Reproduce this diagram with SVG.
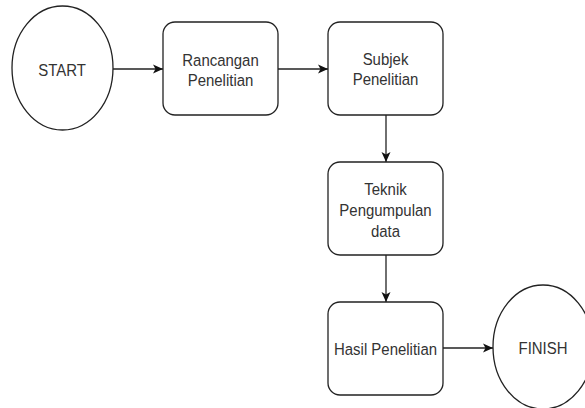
<svg xmlns="http://www.w3.org/2000/svg" width="585" height="408" viewBox="0 0 585 408">
<style>
.node{fill:#fff;stroke:#222;stroke-width:1.3}
.lbl{font-family:"Liberation Sans",Arial,sans-serif;font-size:17px;fill:#333;text-anchor:middle}
.edge{fill:none;stroke:#222;stroke-width:1.3}
</style>
<defs>
<marker id="arr" markerUnits="userSpaceOnUse" markerWidth="11" markerHeight="11" refX="10" refY="5.5" orient="auto">
<path d="M0,1 L10,5.5 L0,10 L2.5,5.5 Z" fill="#111"/>
</marker>
</defs>
<rect width="585" height="408" fill="#fff"/>
<g id="connectors">
<line class="edge" x1="113" y1="69" x2="163" y2="69" marker-end="url(#arr)"/>
<line class="edge" x1="278" y1="69" x2="328" y2="69" marker-end="url(#arr)"/>
<line class="edge" x1="386" y1="115" x2="386" y2="162" marker-end="url(#arr)"/>
<line class="edge" x1="386" y1="255" x2="386" y2="302" marker-end="url(#arr)"/>
<line class="edge" x1="443" y1="348" x2="493" y2="348" marker-end="url(#arr)"/>
</g>
<g id="start">
<ellipse class="node" cx="62.5" cy="68" rx="50.5" ry="62"/>
<text class="lbl" transform="translate(62,76) scale(0.88,1)">START</text>
</g>
<g id="rancangan">
<rect class="node" x="163" y="22" width="115" height="93" rx="12"/>
<text class="lbl" transform="translate(220.5,66) scale(0.88,1)"><tspan x="0" y="0">Rancangan</tspan><tspan x="0" dy="20">Penelitian</tspan></text>
</g>
<g id="subjek">
<rect class="node" x="328" y="22" width="115" height="93" rx="12"/>
<text class="lbl" transform="translate(385.5,65) scale(0.88,1)"><tspan x="0" y="0">Subjek</tspan><tspan x="0" dy="20">Penelitian</tspan></text>
</g>
<g id="teknik">
<rect class="node" x="328" y="162" width="115" height="93" rx="12"/>
<text class="lbl" transform="translate(385.5,195) scale(0.88,1)"><tspan x="0" y="0">Teknik</tspan><tspan x="0" dy="21">Pengumpulan</tspan><tspan x="0" dy="21">data</tspan></text>
</g>
<g id="hasil">
<rect class="node" x="328" y="302" width="115" height="93" rx="12"/>
<text class="lbl" transform="translate(385.5,355) scale(0.88,1)">Hasil Penelitian</text>
</g>
<g id="finish">
<ellipse class="node" cx="543" cy="347" rx="50" ry="62"/>
<text class="lbl" transform="translate(543,354) scale(0.88,1)">FINISH</text>
</g>
</svg>
